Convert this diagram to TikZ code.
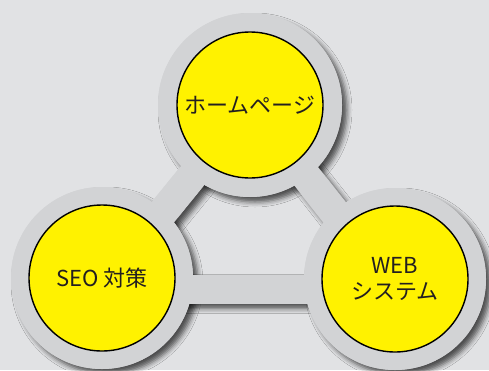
\documentclass[tikz,border=0pt]{standalone}
\usepackage{fontspec}
\setmainfont{Noto Sans CJK JP}
\usetikzlibrary{calc,shadows.blur}
\definecolor{bgc}{HTML}{E1E2E4}
\definecolor{ringc}{HTML}{D2D3D5}
\definecolor{yel}{HTML}{FFF200}
\definecolor{txt}{HTML}{231F20}
\newcommand\mybarpath[3]{($(#1)!#3!90:(#2)$) -- ($(#2)!#3!-90:(#1)$) -- ($(#2)!#3!90:(#1)$) -- ($(#1)!#3!-90:(#2)$) -- cycle}
\begin{document}
\begin{tikzpicture}[x=1pt,y=-1pt,
  shad/.style={fill=ringc, blur shadow={shadow xshift=5pt, shadow yshift=-5pt, shadow blur radius=5pt, shadow opacity=65}},
  plain/.style={fill=ringc},
  yc/.style={circle, fill=yel, draw=black, line width=1.4pt, minimum size=146pt, inner sep=0pt, align=center, text=txt, font=\fontsize{22}{26}\selectfont}]
\useasboundingbox (0,0) rectangle (489,370);
\fill[bgc] (0,0) rectangle (489,370);
\coordinate (tp) at (250,105);
\coordinate (lb) at (102,287);
\coordinate (rb) at (395,289);
\coordinate (lb2) at (102,289);
% shadows
\path[shad] \mybarpath{lb}{tp}{15pt};
\path[shad] \mybarpath{tp}{rb}{15pt};
\path[shad] \mybarpath{lb2}{rb}{14.5pt};
\path[shad] (250,105) circle[radius=92pt];
\path[shad] (102,278) circle[radius=91pt];
\path[shad] (395,279) circle[radius=91pt];
% gray shapes again
\path[plain] \mybarpath{lb}{tp}{15pt};
\path[plain] \mybarpath{tp}{rb}{15pt};
\path[plain] \mybarpath{lb2}{rb}{14.5pt};
\path[plain] (250,105) circle[radius=92pt];
\path[plain] (102,278) circle[radius=91pt];
\path[plain] (395,279) circle[radius=91pt];
% yellow nodes
\node[yc] (hp) at (250,105) {ホームページ};
\node[yc] (seo) at (102,278) {SEO 対策};
\node[yc] (web) at (395,279) {WEB\\システム};
\end{tikzpicture}
\end{document}
